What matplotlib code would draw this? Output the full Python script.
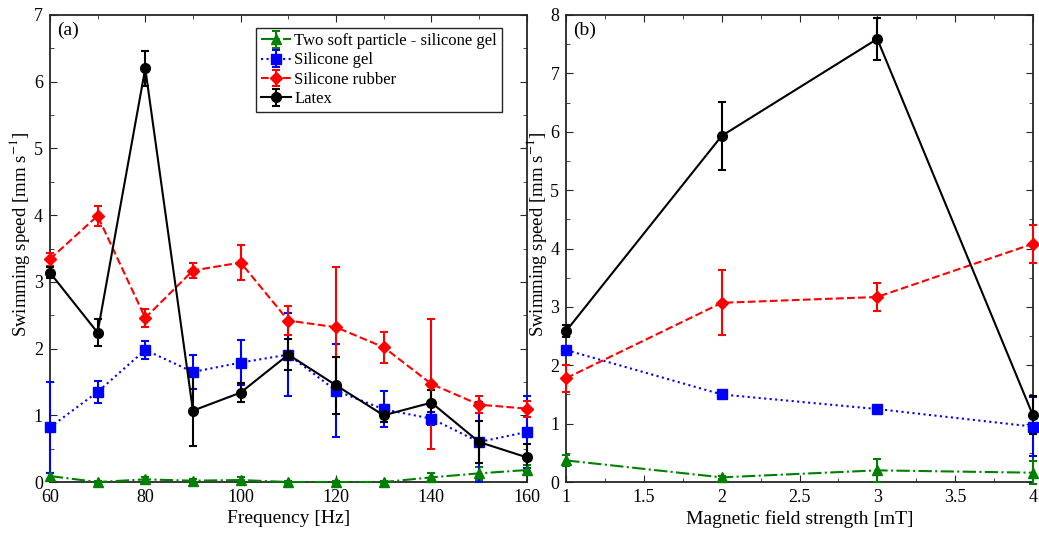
import matplotlib.pyplot as plt
from matplotlib.ticker import MultipleLocator

plt.rcParams['font.family'] = ['Liberation Serif', 'DejaVu Serif']
plt.rcParams['mathtext.fontset'] = 'stix'

# (a) frequency sweep
freq = [60, 70, 80, 90, 100, 110, 120, 130, 140, 150, 160]
two_soft_a = [0.09, 0.0, 0.04, 0.02, 0.03, 0.0, 0.0, 0.0, 0.07, 0.13, 0.18]
two_soft_a_err = [0.05, 0.02, 0.04, 0.03, 0.05, 0.02, 0.02, 0.02, 0.06, 0.1, 0.08]
gel_a = [0.82, 1.35, 1.98, 1.65, 1.79, 1.91, 1.37, 1.09, 0.95, 0.6, 0.75]
gel_a_err = [0.68, 0.16, 0.13, 0.25, 0.34, 0.62, 0.7, 0.27, 0.1, 0.6, 0.54]
rubber_a = [3.34, 3.99, 2.46, 3.17, 3.29, 2.42, 2.32, 2.02, 1.47, 1.16, 1.1]
rubber_a_err = [0.1, 0.15, 0.13, 0.11, 0.26, 0.22, 0.9, 0.23, 0.97, 0.13, 0.12]
latex_a = [3.14, 2.24, 6.2, 1.07, 1.34, 1.91, 1.45, 1.0, 1.19, 0.6, 0.37]
latex_a_err = [0.08, 0.2, 0.26, 0.53, 0.14, 0.23, 0.43, 0.1, 0.19, 0.32, 0.2]

# (b) field strength sweep
field = [1, 2, 3, 4]
two_soft_b = [0.37, 0.08, 0.2, 0.16]
two_soft_b_err = [0.1, 0.03, 0.2, 0.2]
gel_b = [2.26, 1.5, 1.25, 0.95]
gel_b_err = [0.06, 0.05, 0.04, 0.51]
rubber_b = [1.78, 3.07, 3.17, 4.08]
rubber_b_err = [0.23, 0.56, 0.24, 0.32]
latex_b = [2.59, 5.93, 7.59, 1.15]
latex_b_err = [0.1, 0.58, 0.36, 0.32]

labels = ['Two soft particle - silicone gel', 'Silicone gel', 'Silicone rubber', 'Latex']
styles = [('#008000', '^', '-.'), ('#0000ff', 's', ':'), ('#ff0000', 'D', '--'), ('k', 'o', '-')]

fig = plt.figure(figsize=(10.39, 5.35), dpi=100)
ax1 = fig.add_axes([0.048, 0.099, 0.459, 0.873])
ax2 = fig.add_axes([0.545, 0.099, 0.449, 0.873])

def draw(ax, x, series, xoff):
    for (y, err), lab, (c, m, ls) in zip(series, labels, styles):
        ax.errorbar(x, y, yerr=err, color=c, marker=m, linestyle=ls, lw=1.5,
                    ms=7 if m != 'D' else 6, capsize=3, elinewidth=1.5, capthick=1.5,
                    label=lab, clip_on=False, zorder=3)
    ax.tick_params(which='both', direction='in', top=True, right=True, labelsize=13,
                   color='#262626', pad=5)
    ax.tick_params(which='major', length=5)
    ax.tick_params(which='minor', length=3)
    for s in ax.spines.values():
        s.set_linewidth(1.3)
        s.set_color('#262626')
    ax.set_ylabel('Swimming speed [mm s$^{-1}$]', fontsize=13.5)
    ax.yaxis.set_label_coords(xoff, 0.53)

draw(ax1, freq, [(two_soft_a, two_soft_a_err), (gel_a, gel_a_err),
                 (rubber_a, rubber_a_err), (latex_a, latex_a_err)], -0.037)
ax1.set_xlim(60, 160)
ax1.set_ylim(0, 7)
ax1.xaxis.set_major_locator(MultipleLocator(20))
ax1.xaxis.set_minor_locator(MultipleLocator(10))
ax1.yaxis.set_major_locator(MultipleLocator(1))
ax1.yaxis.set_minor_locator(MultipleLocator(0.5))
ax1.set_xlabel('Frequency [Hz]', fontsize=14, labelpad=3)
ax1.text(0.015, 0.985, '(a)', transform=ax1.transAxes, fontsize=14, va='top', ha='left')
leg = ax1.legend(loc='upper right', bbox_to_anchor=(0.948, 0.972), fontsize=12,
                 frameon=True, fancybox=False, framealpha=1,
                 edgecolor='#262626', handlelength=1.8, handletextpad=0.2,
                 borderpad=0.3, labelspacing=0.2, borderaxespad=0)
leg.get_frame().set_linewidth(1.0)

draw(ax2, field, [(two_soft_b, two_soft_b_err), (gel_b, gel_b_err),
                  (rubber_b, rubber_b_err), (latex_b, latex_b_err)], -0.038)
ax2.set_xlim(1, 4)
ax2.set_ylim(0, 8)
ax2.xaxis.set_minor_locator(MultipleLocator(0.25))
ax2.yaxis.set_major_locator(MultipleLocator(1))
ax2.yaxis.set_minor_locator(MultipleLocator(0.5))
ax2.set_xticks([1, 1.5, 2, 2.5, 3, 3.5, 4])
ax2.set_xticklabels(['1', '1.5', '2', '2.5', '3', '3.5', '4'])
ax2.set_xlabel('Magnetic field strength [mT]', fontsize=14, labelpad=3)
ax2.text(0.015, 0.985, '(b)', transform=ax2.transAxes, fontsize=14, va='top', ha='left')

fig.savefig('out.png', dpi=100)
